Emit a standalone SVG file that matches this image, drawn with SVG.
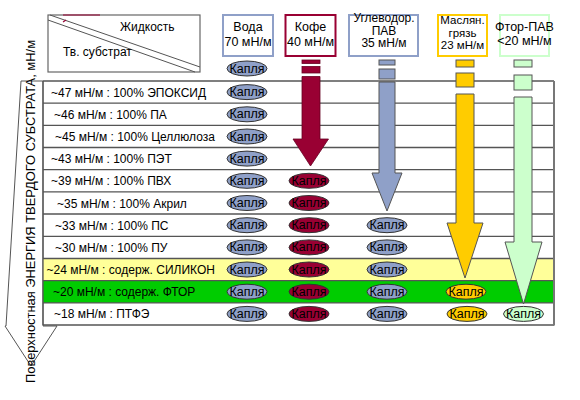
<svg xmlns="http://www.w3.org/2000/svg" width="580" height="400" viewBox="0 0 580 400">
<style>
text{font-family:"Liberation Sans",Arial,sans-serif;fill:#000}
.lbl{font-size:12px}
.hd{font-size:12.5px;text-anchor:middle}
.hd3{font-size:12px;text-anchor:middle}
.hd4{font-size:11.5px;text-anchor:middle}
.dt{font-size:12.5px;text-anchor:middle}
.rl{stroke:#555;stroke-width:1.3;fill:none}
.dw{fill:#8fa0c8;stroke:#333;stroke-width:1}
.dc{fill:#990033;stroke:#333;stroke-width:1}
.dy{fill:#ffcc00;stroke:#333;stroke-width:1}
.dg{fill:#ccffcc;stroke:#333;stroke-width:1}
.ac{fill:#990033;stroke:#660022;stroke-width:0.8}
.ab{fill:#8fa0c8;stroke:#555;stroke-width:1}
.ay{fill:#ffcc00;stroke:#555;stroke-width:1}
.ag{fill:#ccffcc;stroke:#555;stroke-width:1}
</style>

<g id="axis-arrow">
<polygon points="21,81 43,81 43,326 57,326 31,366 5,326 6,326" fill="#fff" stroke="#555" stroke-width="1"/>
<text class="lbl" transform="translate(35,383) rotate(-90)" font-size="12.5" textLength="343" lengthAdjust="spacingAndGlyphs">Поверхностная ЭНЕРГИЯ ТВЕРДОГО СУБСТРАТА, мН/м</text>
</g>

<g id="corner-header">
<rect x="48" y="15" width="152" height="57" fill="#fff" stroke="#666" stroke-width="1.2"/>
<line x1="50" y1="15" x2="200" y2="67" stroke="#555" stroke-width="1"/>
<line x1="48" y1="20" x2="195" y2="72" stroke="#555" stroke-width="1"/>
<line x1="63" y1="15" x2="100" y2="15" stroke="#990033" stroke-width="1"/>
<line x1="63" y1="22" x2="66" y2="20" stroke="#990033" stroke-width="1.2"/>
<text class="lbl" x="120" y="31">Жидкость</text>
<text class="lbl" x="63" y="56">Тв. субстрат</text>
</g>

<g id="h-water">
<rect x="223" y="15" width="50" height="41" fill="#fff" stroke="#8fa0c8" stroke-width="2"/>
<text class="hd" x="248" y="31">Вода</text>
<text class="hd" x="248" y="46">70 мН/м</text>
</g>
<g id="h-coffee">
<rect x="285.5" y="15" width="50" height="41" fill="#fff" stroke="#990033" stroke-width="2"/>
<text class="hd" x="310.5" y="31">Кофе</text>
<text class="hd" x="310.5" y="46">40 мН/м</text>
</g>
<g id="h-hydrocarbon">
<rect x="349" y="15" width="69" height="41" fill="#fff" stroke="#8fa0c8" stroke-width="2"/>
<text class="hd3" x="384" y="22">Углеводор.</text>
<text class="hd3" x="384" y="34.5">ПАВ</text>
<text class="hd3" x="384" y="47">35 мН/м</text>
</g>
<g id="h-oil">
<rect x="438" y="15" width="49" height="41" fill="#fff" stroke="#ffcc00" stroke-width="2"/>
<text class="hd4" x="462.5" y="24">Маслян.</text>
<text class="hd4" x="462.5" y="36.5">грязь</text>
<text class="hd4" x="462.5" y="49">23 мН/м</text>
</g>
<g id="h-fluoro">
<rect x="500" y="15" width="49" height="41" fill="#fff" stroke="#ccffcc" stroke-width="2"/>
<text class="hd" x="524.5" y="30.5">Фтор-ПАВ</text>
<text class="hd" x="524.5" y="45">&lt;20 мН/м</text>
</g>

<g id="table">
<rect x="43" y="258.5" width="511" height="22.2" fill="#ffff99"/>
<rect x="43" y="280.7" width="511" height="22.2" fill="#00cc00"/>
<g class="rl">
<line x1="43" y1="81" x2="554" y2="81"/>
<line x1="43" y1="103.2" x2="554" y2="103.2"/>
<line x1="43" y1="125.4" x2="554" y2="125.4"/>
<line x1="43" y1="147.5" x2="554" y2="147.5"/>
<line x1="43" y1="169.7" x2="554" y2="169.7"/>
<line x1="43" y1="191.9" x2="554" y2="191.9"/>
<line x1="43" y1="214" x2="554" y2="214"/>
<line x1="43" y1="236.3" x2="554" y2="236.3"/>
<line x1="43" y1="258.5" x2="554" y2="258.5"/>
<line x1="43" y1="280.7" x2="554" y2="280.7"/>
<line x1="43" y1="302.8" x2="554" y2="302.8"/>
<line x1="43" y1="325" x2="554" y2="325"/>
<line x1="43" y1="81" x2="43" y2="325"/>
</g>
<line x1="554" y1="81" x2="554" y2="325.6" stroke="#777" stroke-width="2"/>
</g>

<g id="rows">
<text class="lbl" x="51" y="96.6">~47 мН/м : 100% ЭПОКСИД</text>
<text class="lbl" x="54" y="118.8">~46 мН/м : 100% ПА</text>
<text class="lbl" x="55" y="141">~45 мН/м : 100% Целлюлоза</text>
<text class="lbl" x="51" y="163.1">~43 мН/м : 100% ПЭТ</text>
<text class="lbl" x="51" y="185.3">~39 мН/м : 100% ПВХ</text>
<text class="lbl" x="57" y="207.5">~35 мН/м : 100% Акрил</text>
<text class="lbl" x="55" y="229.7">~33 мН/м : 100% ПС</text>
<text class="lbl" x="55" y="251.9">~30 мН/м : 100% ПУ</text>
<text class="lbl" x="46.5" y="274">~24 мН/м : содерж. СИЛИКОН</text>
<text class="lbl" x="53" y="296.2">~20 мН/м : содерж. ФТОР</text>
<text class="lbl" x="54" y="318.4">~18 мН/м : ПТФЭ</text>
</g>

<g id="connectors">
<g id="arrow-coffee" class="ac">
<rect x="302" y="60" width="18" height="3.5"/>
<rect x="302" y="66.5" width="18" height="6.5"/>
<polygon points="302,76.5 320,76.5 320,139 328.5,139 310.5,166 293,139 302,139"/>
</g>
<g id="arrow-hydrocarbon" class="ab">
<rect x="379" y="60" width="16" height="5"/>
<rect x="379" y="69" width="16" height="10"/>
<polygon points="379,82 395,82 395,173 402,173 387,211 372,173 379,173"/>
</g>
<g id="arrow-oil" class="ay">
<rect x="456" y="60" width="18" height="7"/>
<rect x="456" y="73" width="18" height="14"/>
<polygon points="456,94 474,94 474,223 483,223 465,278 447,223 456,223"/>
</g>
<g id="arrow-fluoro" class="ag">
<rect x="514" y="60" width="18" height="7"/>
<rect x="514" y="75" width="18" height="15"/>
<polygon points="514,97 532,97 532,242 542,242 523.5,304 505,242 514,242"/>
</g>
</g>

<g id="drops-water">
<ellipse class="dw" cx="247" cy="68.5" rx="20" ry="7.5"/><text class="dt" x="247" y="72.5">Капля</text>
<ellipse class="dw" cx="247" cy="92.1" rx="20" ry="7.5"/><text class="dt" x="247" y="96.1">Капля</text>
<ellipse class="dw" cx="247" cy="114.3" rx="20" ry="7.5"/><text class="dt" x="247" y="118.3">Капля</text>
<ellipse class="dw" cx="247" cy="136.5" rx="20" ry="7.5"/><text class="dt" x="247" y="140.5">Капля</text>
<ellipse class="dw" cx="247" cy="158.6" rx="20" ry="7.5"/><text class="dt" x="247" y="162.6">Капля</text>
<ellipse class="dw" cx="247" cy="180.8" rx="20" ry="7.5"/><text class="dt" x="247" y="184.8">Капля</text>
<ellipse class="dw" cx="247" cy="203" rx="20" ry="7.5"/><text class="dt" x="247" y="207">Капля</text>
<ellipse class="dw" cx="247" cy="225.2" rx="20" ry="7.5"/><text class="dt" x="247" y="229.2">Капля</text>
<ellipse class="dw" cx="247" cy="247.4" rx="20" ry="7.5"/><text class="dt" x="247" y="251.4">Капля</text>
<ellipse class="dw" cx="247" cy="269.5" rx="20" ry="7.5"/><text class="dt" x="247" y="273.5">Капля</text>
<ellipse class="dw" cx="247" cy="291.7" rx="20" ry="7.5"/><text class="dt" x="247" y="295.7">Капля</text>
<ellipse class="dw" cx="247" cy="313.9" rx="20" ry="7.5"/><text class="dt" x="247" y="317.9">Капля</text>
</g>
<g id="drops-coffee">
<ellipse class="dc" cx="309" cy="180.8" rx="20" ry="7.5"/><text class="dt" x="309" y="184.8">Капля</text>
<ellipse class="dc" cx="309" cy="203" rx="20" ry="7.5"/><text class="dt" x="309" y="207">Капля</text>
<ellipse class="dc" cx="309" cy="225.2" rx="20" ry="7.5"/><text class="dt" x="309" y="229.2">Капля</text>
<ellipse class="dc" cx="309" cy="247.4" rx="20" ry="7.5"/><text class="dt" x="309" y="251.4">Капля</text>
<ellipse class="dc" cx="309" cy="269.5" rx="20" ry="7.5"/><text class="dt" x="309" y="273.5">Капля</text>
<ellipse class="dc" cx="309" cy="291.7" rx="20" ry="7.5"/><text class="dt" x="309" y="295.7">Капля</text>
<ellipse class="dc" cx="309" cy="313.9" rx="20" ry="7.5"/><text class="dt" x="309" y="317.9">Капля</text>
</g>
<g id="drops-hydrocarbon">
<ellipse class="dw" cx="387" cy="225.2" rx="20" ry="7.5"/><text class="dt" x="387" y="229.2">Капля</text>
<ellipse class="dw" cx="387" cy="247.4" rx="20" ry="7.5"/><text class="dt" x="387" y="251.4">Капля</text>
<ellipse class="dw" cx="387" cy="269.5" rx="20" ry="7.5"/><text class="dt" x="387" y="273.5">Капля</text>
<ellipse class="dw" cx="387" cy="291.7" rx="20" ry="7.5"/><text class="dt" x="387" y="295.7">Капля</text>
<ellipse class="dw" cx="387" cy="313.9" rx="20" ry="7.5"/><text class="dt" x="387" y="317.9">Капля</text>
</g>
<g id="drops-oil">
<ellipse class="dy" cx="466" cy="291.7" rx="20" ry="7.5"/><text class="dt" x="466" y="295.7">Капля</text>
<ellipse class="dy" cx="467" cy="313.9" rx="20" ry="7.5"/><text class="dt" x="467" y="317.9">Капля</text>
</g>
<g id="drops-fluoro">
<ellipse class="dg" cx="523.5" cy="313.9" rx="20" ry="7.5"/><text class="dt" x="523.5" y="317.9">Капля</text>
</g>
</svg>
